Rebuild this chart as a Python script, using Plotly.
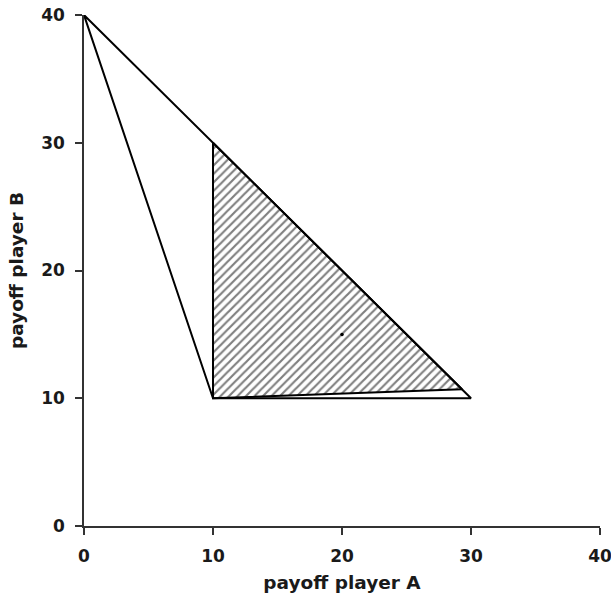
import plotly.graph_objects as go

# Feasible payoff triangle
tri_x = [0, 10, 30, 0]
tri_y = [40, 10, 10, 40]
# Hatched region
hatch_x = [10, 10, 29.3, 10]
hatch_y = [30, 10, 10.7, 30]
# Point
pt_x = [20]
pt_y = [15]

tick_vals = [0, 10, 20, 30, 40]
tick_text = ["0", "10", "20", "30", "40"]

fig = go.Figure()
fig.add_trace(go.Scatter(
    x=hatch_x, y=hatch_y, mode="lines", fill="toself",
    fillcolor="white",
    fillpattern=dict(shape="/", size=6, solidity=0.36, fgcolor="black", bgcolor="white"),
    line=dict(color="black", width=2), hoverinfo="skip", showlegend=False))
fig.add_trace(go.Scatter(
    x=tri_x, y=tri_y, mode="lines",
    line=dict(color="black", width=2), showlegend=False))
fig.add_trace(go.Scatter(
    x=pt_x, y=pt_y, mode="markers",
    marker=dict(color="black", size=3.5), showlegend=False))

tickfont = dict(family="DejaVu Sans", size=17, color="#1a1a1a", weight="bold")
titlefont = dict(family="DejaVu Sans", size=18.5, color="#1a1a1a", weight="bold")

fig.update_layout(
    width=611, height=600,
    margin=dict(l=84, r=11, t=15, b=74, autoexpand=False),
    plot_bgcolor="white", paper_bgcolor="white",
    xaxis=dict(range=[0, 40], tickvals=tick_vals, ticktext=tick_text,
               showgrid=False, zeroline=False, showline=True, linecolor="#333", linewidth=1.5,
               ticks="outside", ticklen=7, tickwidth=1.5, tickcolor="#333",
               tickfont=tickfont, ticklabelstandoff=7, ticklabeloverflow="allow",
               title=dict(text="payoff player A", font=titlefont, standoff=11),
               automargin=False),
    yaxis=dict(range=[0, 40], tickvals=tick_vals, ticktext=tick_text,
               showgrid=False, zeroline=False, showline=True, linecolor="#333", linewidth=1.5,
               ticks="outside", ticklen=7, tickwidth=1.5, tickcolor="#333",
               tickfont=tickfont, ticklabelstandoff=7, ticklabeloverflow="allow",
               title=dict(text="payoff player B", font=titlefont, standoff=13),
               automargin=False),
)
fig.write_html("out.html", config={"displayModeBar": False},
               post_script="document.body.style.margin='0px';")
